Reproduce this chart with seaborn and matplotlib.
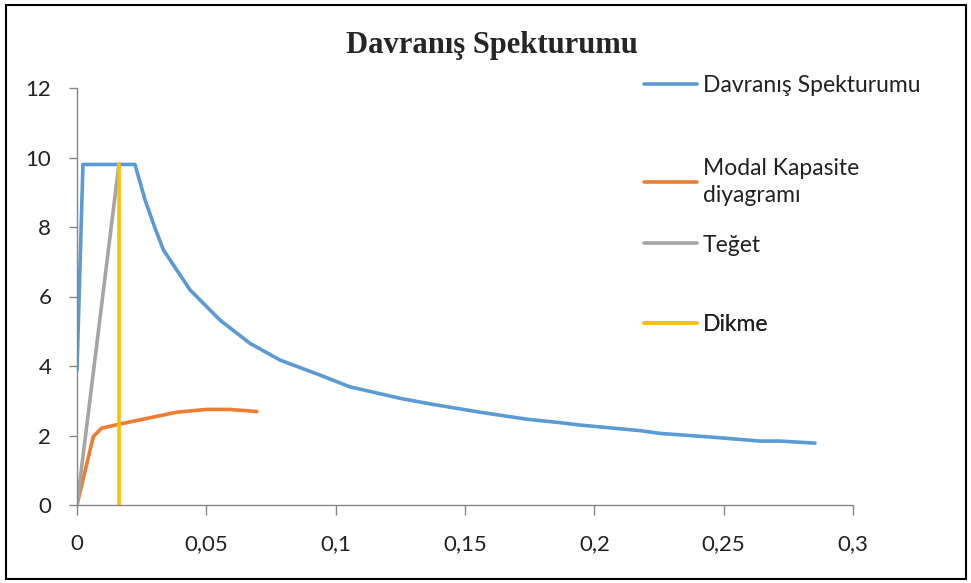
import matplotlib
matplotlib.use("Agg")
import matplotlib.pyplot as plt
import seaborn as sns
import pandas as pd
from matplotlib.patches import Rectangle

# ---- data ----
spec_x = [0.0, 0.0023, 0.0224, 0.0263, 0.0300, 0.0334, 0.0437, 0.0553, 0.0669, 0.0785, 0.0939,
          0.1055, 0.1249, 0.1365, 0.1558, 0.1738, 0.1867, 0.1945, 0.2177, 0.2254,
          0.246, 0.264, 0.2718, 0.2853]
spec_y = [3.88, 9.8, 9.8, 8.78, 8.0, 7.34, 6.19, 5.32, 4.65, 4.17, 3.74,
          3.40, 3.07, 2.91, 2.67, 2.47, 2.37, 2.30, 2.14, 2.06,
          1.95, 1.84, 1.84, 1.78]
cap_x = [0.0, 0.0063, 0.0095, 0.0166, 0.0385, 0.05, 0.059, 0.0695]
cap_y = [0.0, 1.97, 2.21, 2.33, 2.67, 2.75, 2.75, 2.69]
tan_x = [0.0, 0.0162]
tan_y = [0.0, 9.8]
dik_x = [0.0163, 0.0163]
dik_y = [0.0, 9.8]

labels = ["Davranış Spekturumu", "Modal Kapasite\ndiyagramı", "Teğet", "Dikme"]
colors = ["#5B9BD5", "#ED7D31", "#A5A5A5", "#FFC000"]
xticks = [0, 0.05, 0.1, 0.15, 0.2, 0.25, 0.3]
xtick_labels = ["0", "0,05", "0,1", "0,15", "0,2", "0,25", "0,3"]
yticks = [0, 2, 4, 6, 8, 10, 12]
title = "Davranış Spekturumu"

sns.set_style("white")
plt.rcParams["font.family"] = ["Lato", "DejaVu Sans"]

fig = plt.figure(figsize=(9.71, 5.83), dpi=100)
ax = fig.add_axes([77 / 971, 1 - 505 / 583, (853 - 77) / 971, (505 - 88) / 583])

series = [(spec_x, spec_y), (cap_x, cap_y), (tan_x, tan_y), (dik_x, dik_y)]
for (xs, ys), lab, col in zip(series, labels, colors):
    df = pd.DataFrame({"x": xs, "y": ys})
    sns.lineplot(data=df, x="x", y="y", ax=ax, color=col, linewidth=2.6,
                 sort=False, estimator=None, label=lab)

ax.set_xlim(0, 0.3)
ax.set_ylim(0, 12)
ax.set_xticks(xticks)
ax.set_xticklabels(xtick_labels)
ax.set_yticks(yticks)
ax.set_xlabel("")
ax.set_ylabel("")
for s in ["top", "right"]:
    ax.spines[s].set_visible(False)
for s in ["left", "bottom"]:
    ax.spines[s].set_color("#868686")
    ax.spines[s].set_linewidth(1.0)
ax.tick_params(axis="x", direction="out", length=7, color="#868686", width=1,
               labelsize=16, pad=14, bottom=True, colors="#868686", labelcolor="#222222")
ax.tick_params(axis="y", direction="out", length=5.5, color="#868686", width=1,
               labelsize=16, pad=13, left=True, colors="#868686", labelcolor="#222222")

# legend: one entry per row, placed at the reference's row positions
handles, labs = ax.get_legend_handles_labels()
ax.get_legend().remove()
row_centers_px = [86, 182, 245, 325]
for h, lab, yc in zip(handles, labs, row_centers_px):
    leg = ax.legend([h], [lab], loc="center left",
                    bbox_to_anchor=(644 / 971, 1 - yc / 583),
                    bbox_transform=fig.transFigure, frameon=False, fontsize=16.5,
                    handlelength=2.3, handletextpad=0.27,
                    borderaxespad=0, borderpad=0)
    for t in leg.get_texts():
        t.set_linespacing(1.3)
        t.set_color("#222222")
    for ln in leg.get_lines():
        ln.set_linewidth(2.6)
    ax.add_artist(leg)

fig.text(492 / 971, 1 - 45 / 583, title, ha="center", va="center",
         fontsize=22, fontweight="bold", family=["Liberation Serif", "DejaVu Serif"])

fig.add_artist(Rectangle((6 / 971, 4 / 583), 960 / 971, 574 / 583,
                         transform=fig.transFigure, fill=False,
                         edgecolor="black", linewidth=1.5))

fig.savefig("out.png", dpi=100)
